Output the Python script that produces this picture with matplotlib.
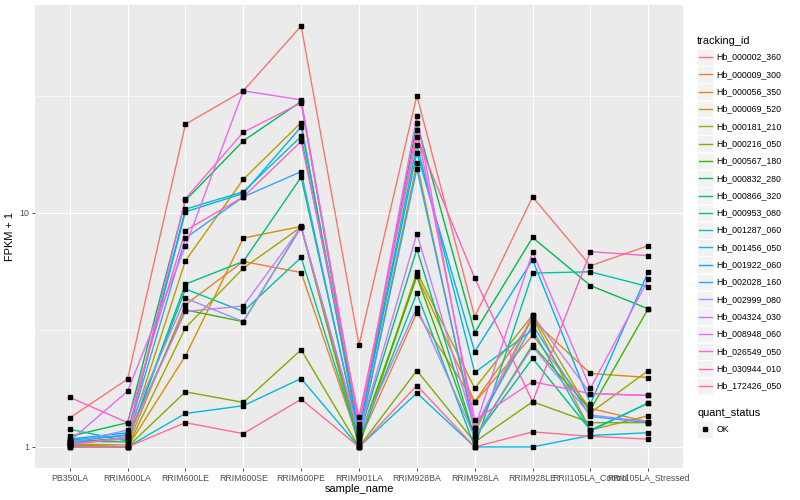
import matplotlib
matplotlib.use("Agg")
import matplotlib.pyplot as plt
import numpy as np
from matplotlib.patches import Rectangle
from matplotlib.lines import Line2D

plt.rcParams['font.family'] = ['Liberation Sans', 'DejaVu Sans']

samples = ["PB350LA", "RRIM600LA", "RRIM600LE", "RRIM600SE", "RRIM600PE",
           "RRIM901LA", "RRIM928BA", "RRIM928LA", "RRIM928LE",
           "RRII105LA_Control", "RRII105LA_Stressed"]

tracking_ids = ["Hb_000002_360", "Hb_000009_300", "Hb_000056_350", "Hb_000069_520",
                "Hb_000181_210", "Hb_000216_050", "Hb_000567_180", "Hb_000832_280",
                "Hb_000866_320", "Hb_000953_080", "Hb_001287_060", "Hb_001456_050",
                "Hb_001922_060", "Hb_002028_160", "Hb_002999_080", "Hb_004324_030",
                "Hb_008948_060", "Hb_026549_050", "Hb_030944_010", "Hb_172426_050"]

# ggplot hue palette, 20 levels
colors = ["#F8766D", "#EA8331", "#D89000", "#C09B00", "#A3A500", "#7CAE00", "#39B600",
          "#00BB4E", "#00BF7D", "#00C1A3", "#00BFC4", "#00BAE0", "#00B0F6", "#35A2FF",
          "#9590FF", "#C77CFF", "#E76BF3", "#FA62DB", "#FF62BC", "#FF6C91"]

# FPKM + 1, one row per tracking_id, one column per sample
fpkm = [
    [1.33, 1.95, 23.9, 33.2, 62.8, 2.73, 31.7, 3.6, 11.7, 5.94, 7.24],
    [1.03, 1.02, 4.05, 6.2, 5.56, 1.05, 3.75, 1.55, 3.0, 1.46, 1.28],
    [1.0, 1.0, 2.45, 7.8, 8.75, 1.02, 5.4, 1.56, 3.49, 2.06, 1.98],
    [1.05, 1.08, 6.24, 13.9, 24.3, 1.1, 16.3, 1.15, 3.58, 1.18, 1.36],
    [1.02, 1.0, 3.23, 5.8, 8.7, 1.0, 5.6, 1.78, 3.66, 1.4, 2.12],
    [1.02, 1.0, 1.72, 1.55, 2.6, 1.0, 2.12, 1.05, 1.56, 1.27, 1.27],
    [1.04, 1.1, 3.85, 3.43, 8.7, 1.08, 5.35, 1.1, 2.73, 1.44, 3.9],
    [1.11, 1.27, 11.3, 20.3, 29.9, 1.15, 24.2, 3.08, 7.85, 4.89, 3.89],
    [1.06, 1.05, 4.96, 6.2, 14.2, 1.12, 7.0, 1.1, 2.39, 1.18, 1.54],
    [1.19, 1.06, 4.73, 3.79, 6.45, 1.05, 4.54, 1.0, 5.53, 5.6, 4.84],
    [1.07, 1.12, 10.37, 12.3, 21.2, 1.2, 19.5, 2.08, 3.16, 1.17, 1.54],
    [1.0, 1.0, 1.39, 1.5, 1.96, 1.0, 1.7, 1.0, 1.0, 1.12, 1.15],
    [1.08, 1.15, 10.1, 12.1, 23.3, 1.18, 18.1, 2.55, 6.3, 1.53, 5.6],
    [1.05, 1.13, 7.8, 11.7, 15.0, 1.1, 15.4, 1.2, 3.32, 1.35, 1.27],
    [1.04, 1.18, 4.32, 3.43, 8.7, 1.12, 3.94, 1.1, 2.68, 1.37, 1.28],
    [1.03, 1.09, 3.79, 4.0, 8.7, 1.14, 8.16, 1.2, 3.66, 1.69, 1.66],
    [1.06, 1.73, 7.2, 33.2, 30.4, 1.22, 25.9, 1.2, 6.8, 1.78, 5.2],
    [1.02, 1.1, 11.5, 22.1, 29.5, 1.25, 22.6, 1.3, 1.9, 1.69, 1.66],
    [1.63, 1.27, 8.4, 11.7, 20.2, 1.34, 21.0, 5.26, 1.56, 6.83, 6.56],
    [1.0, 1.0, 1.27, 1.14, 1.6, 1.0, 1.83, 1.0, 1.16, 1.11, 1.08],
]

W, H = 800, 500
fig = plt.figure(figsize=(8, 5), dpi=100)
ax = fig.add_axes([35 / W, 1 - 468 / H, (683 - 35) / W, (468 - 5) / H])
ax.set_facecolor("#EBEBEB")
for s in ax.spines.values():
    s.set_visible(False)

x = np.arange(1, len(samples) + 1)
for vals, c in zip(fpkm, colors):
    ax.plot(x, vals, color=c, lw=1.0, zorder=3)
for vals in fpkm:
    ax.plot(x, vals, ls="none", marker="s", ms=2.2, color="black", zorder=4)

ax.set_yscale("log")
rng = np.log10(np.max(fpkm))
ax.set_ylim(10 ** (-0.05 * rng), 10 ** (1.05 * rng))
ax.set_xlim(0.4, len(samples) + 0.6)

ax.set_yticks([1, 10])
ax.set_yticklabels(["1", "10"])
ax.set_yticks([10 ** 0.5, 10 ** 1.5], minor=True)
ax.set_xticks(x)
ax.set_xticklabels(samples)
ax.grid(which="major", color="white", lw=0.8, zorder=1)
ax.grid(which="minor", axis="y", color="white", lw=0.4, zorder=1)
ax.tick_params(which="major", length=2.5, width=0.6, color="#333333",
               labelsize=6.3, labelcolor="#4D4D4D", pad=1.5)
ax.tick_params(which="minor", length=0)
ax.set_axisbelow(True)

ax.set_xlabel("sample_name", fontsize=7.9, labelpad=1)
ax.set_ylabel("FPKM + 1", fontsize=7.9, labelpad=3)

# legend on an overlay in pixel coordinates
leg = fig.add_axes([0, 0, 1, 1], zorder=5)
leg.set_xlim(0, W)
leg.set_ylim(H, 0)
leg.axis("off")
leg.patch.set_alpha(0)

leg.text(697, 40.5, "tracking_id", fontsize=7.9, va="center", ha="left")
key_h = 17.3
y0 = 48.5
for i, (tid, c) in enumerate(zip(tracking_ids, colors)):
    top = y0 + i * key_h
    leg.add_patch(Rectangle((697.3, top + 0.3), 15.4, key_h - 0.6,
                            facecolor="#F2F2F2", edgecolor="white", lw=0.5))
    leg.add_line(Line2D([698.5, 711.5], [top + key_h / 2] * 2, color=c, lw=1.0))
    leg.text(716.5, top + key_h / 2, tid, fontsize=6.3, va="center", ha="left")

leg.text(697, 412.5, "quant_status", fontsize=7.9, va="center", ha="left")
top = 420.5
leg.add_patch(Rectangle((697.3, top + 0.3), 15.4, key_h - 0.6,
                        facecolor="#F2F2F2", edgecolor="white", lw=0.5))
leg.add_line(Line2D([705], [top + key_h / 2], ls="none", marker="s", ms=2.2, color="black"))
leg.text(716.5, top + key_h / 2, "OK", fontsize=6.3, va="center", ha="left")

fig.savefig("out.png", dpi=100)
